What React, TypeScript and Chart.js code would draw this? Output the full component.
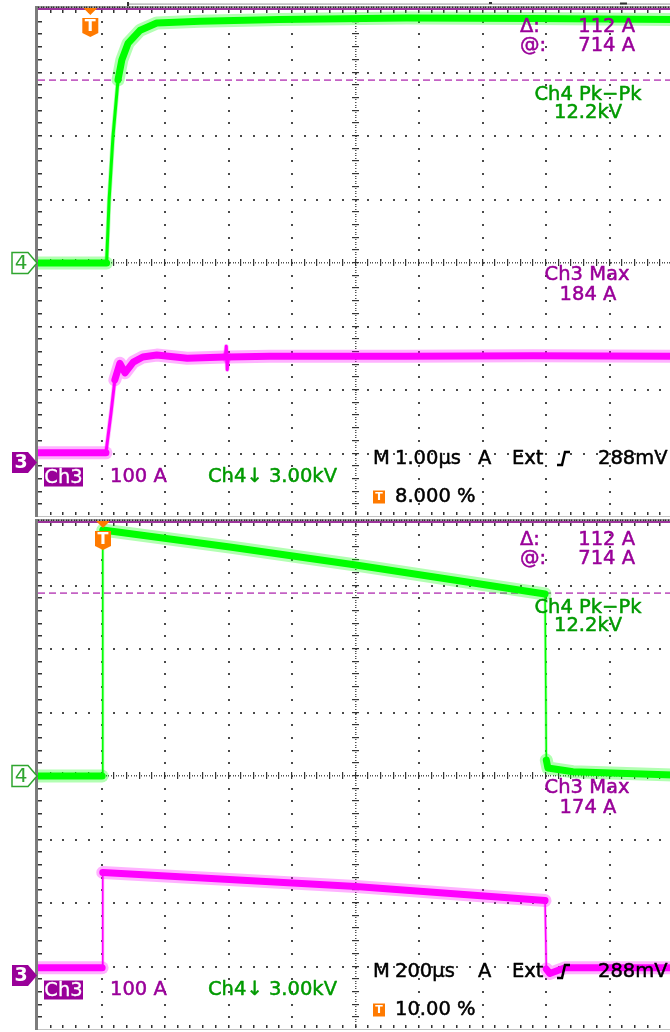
import React, { useEffect, useRef } from "react";
import { Chart, registerables } from "chart.js";

Chart.register(...registerables);

// ---------------- scope channel settings ----------------
const ch4RangeKv = [-12, 12]; // 3.00 kV/div, 8 divisions, ground at centre
const ch3RangeA = [-86, 714]; // 100 A/div, 8 divisions, top of screen = 714 A
const cursorAmps = [714, 602]; // "@: 714 A" and Δ 112 A below it

// ---------------- panel 1 : M 1.00 µs, trigger at 8.000 % ----------------
const p1TimeRange = [-0.8, 9.2]; // µs
const p1Ch4Time = [-0.8, 0.28, 0.32, 0.38, 0.46, 0.52, 0.62, 0.81, 1.07, 1.75, 3.0, 5.0, 7.0, 9.2];
const p1Ch4Kv = [0, 0, 2.98, 5.95, 8.65, 9.59, 10.39, 11.0, 11.34, 11.42, 11.5, 11.58, 11.55, 11.5];
const p1Ch3Time = [-0.8, 0.27, 0.35, 0.41, 0.49, 0.57, 0.7, 0.85, 1.07, 1.55, 2.15, 2.165, 2.18, 2.195, 2.85, 5.0, 7.0, 9.2];
const p1Ch3Amp = [15, 15, 78, 130, 156, 141, 158, 166, 169, 164, 166, 183, 146, 166, 167, 167, 168, 167];
const p1Labels = ["1.00µs", "8.000 %", "184 A"];

// ---------------- panel 2 : M 200 µs, trigger at 10.00 % ----------------
const p2TimeRange = [-200, 1800]; // µs
const p2Ch4Time = [-200, 2, 4, 404, 801, 1192, 1397, 1401, 1406, 1485, 1800];
const p2Ch4Kv = [0, 0, 11.62, 10.82, 9.97, 9.07, 8.6, 0.75, 0.38, 0.2, 0.05];
const p2Ch3Time = [-200, 2, 4, 801, 1397, 1401, 1412, 1460, 1800];
const p2Ch3Amp = [12, 12, 162, 140, 118, 10, 3, 12, 12];
const p2Labels = ["200µs", "10.00 %", "174 A"];

// ---------------- common readouts ----------------
const cursorLabels = ["Δ:", "112 A", "@:", "714 A"];
const pkpkLabels = ["Ch4 Pk−Pk", "12.2kV"];
const maxTitle = "Ch3 Max";
const scaleLabels = ["Ch3", "100 A", "Ch4↓ 3.00kV"];
const triggerLabels = ["M", "A", "Ext", "288mV"];

const PURPLE = "#990099";
const GREEN_TXT = "#009a00";
const ORANGE = "#ff7a00";
const FONT = '"DejaVu Sans", "Liberation Sans", sans-serif';

type PanelCfg = {
  timeRange: number[];
  ch4T: number[];
  ch4V: number[];
  ch3T: number[];
  ch3V: number[];
  labels: string[];
  steepW: number;
  top: number;
  height: number;
  padTop: number;
  padBottom: number;
  pageLine: boolean;
};

const CANVAS_W = 680;
const PLOT_LEFT = 38;
const PLOT_W = 635;

function isSteep(c: any) {
  return Math.abs(c.p1.y - c.p0.y) > 4 * Math.abs(c.p1.x - c.p0.x) + 6;
}

function traceSets(t: number[], v: number[], axis: string, core: string, halo: string, steepW: number) {
  const mk = () => t.map((x, i) => ({ x, y: v[i] }));
  return [
    {
      data: mk(),
      yAxisID: axis,
      borderColor: core,
      borderWidth: 7,
      borderJoinStyle: "round",
      borderCapStyle: "round",
      pointRadius: 0,
      segment: { borderWidth: (c: any) => (isSteep(c) ? steepW : undefined) },
    },
    {
      data: mk(),
      yAxisID: axis,
      borderColor: halo,
      borderWidth: 13,
      borderJoinStyle: "round",
      borderCapStyle: "round",
      pointRadius: 0,
      segment: { borderWidth: (c: any) => (isSteep(c) ? steepW + 1.5 : undefined) },
    },
  ];
}

const graticule = {
  id: "graticule",
  beforeDatasetsDraw(chart: any) {
    const { ctx, chartArea: a, scales } = chart;
    const xs = scales.x;
    const ys = scales.y4;
    const px = (d: number) => xs.getPixelForValue(xs.min + (d * (xs.max - xs.min)) / 10);
    const py = (d: number) => ys.getPixelForValue(ys.min + (d * (ys.max - ys.min)) / 8);
    const L = a.left, T = a.top, B = a.bottom, R = a.right;
    ctx.save();
    // major dotted lines
    ctx.fillStyle = "#4a4a4a";
    for (let i = 1; i < 10; i++) {
      if (i === 5) continue;
      const X = Math.round(px(i));
      for (let j = 1; j < 40; j++) {
        const Y = Math.round(py(j / 5));
        ctx.fillRect(X - 1, Y - 1, 2, 2);
      }
    }
    for (let i = 1; i < 8; i++) {
      if (i === 4) continue;
      const Y = Math.round(py(i));
      for (let j = 1; j < 50; j++) {
        const X = Math.round(px(j / 5));
        ctx.fillRect(X - 1, Y - 1, 2, 2);
      }
    }
    // centre cross-hair
    const cx = Math.round(px(5));
    const cy = Math.round(py(4));
    ctx.fillStyle = "#505050";
    for (let k = 1; k < 200; k++) {
      const Y = Math.round(py(k / 25));
      ctx.fillRect(cx - 1, Y - 1, 1.5, 1);
    }
    for (let k = 1; k < 250; k++) {
      const X = Math.round(px(k / 25));
      ctx.fillRect(X - 1, cy - 1, 1, 1.5);
    }
    ctx.fillStyle = "#333";
    for (let j = 1; j < 40; j++) {
      const Y = Math.round(py(j / 5));
      ctx.fillRect(cx - 4, Y - 1, 7, 1.2);
    }
    for (let j = 1; j < 50; j++) {
      const X = Math.round(px(j / 5));
      ctx.fillRect(X - 1, cy - 4, 1.2, 7);
    }
    // edge ticks
    ctx.fillStyle = "#333";
    for (let j = 1; j < 40; j++) {
      const Y = Math.round(py(j / 5));
      ctx.fillRect(L, Y - 1, 4, 1.5);
    }
    for (let j = 1; j < 50; j++) {
      const X = Math.round(px(j / 5));
      ctx.fillRect(X - 1, T, 1.5, 4);
      ctx.fillRect(X - 1, B - 5, 1.5, 3);
    }
    // frame
    ctx.fillStyle = "#7c7c7c";
    ctx.fillRect(L - 3, T - 3, 3, B - T + 3);
    ctx.fillStyle = "#a4a4a4";
    ctx.fillRect(L, T - 3, R - L, 3);
    ctx.fillStyle = "#2e2e2e";
    for (let k = 0; k < 250; k++) {
      const X = Math.round(px(k / 25));
      ctx.fillRect(X, T - 2.5, 1.2, 2);
    }
    ctx.fillStyle = "#c4c4c4";
    ctx.fillRect(L, B - 1, R - L, 1);
    ctx.restore();
  },
};

function text(ctx: any, s: string, x: number, y: number, color: string, align = "left", font = `19.5px ${FONT}`, stroke = 0.5) {
  ctx.font = font;
  ctx.fillStyle = color;
  ctx.textAlign = align;
  ctx.textBaseline = "middle";
  ctx.fillText(s, x, y);
  if (stroke > 0) {
    ctx.strokeStyle = color;
    ctx.lineWidth = stroke;
    ctx.lineJoin = "round";
    ctx.strokeText(s, x, y);
  }
}

function chMarker(ctx: any, L: number, y: number, label: string, filled: boolean) {
  const x0 = 12, x1 = L - 10, tip = L - 1;
  ctx.beginPath();
  ctx.moveTo(x0, y - 10.5);
  ctx.lineTo(x1, y - 10.5);
  ctx.lineTo(tip, y);
  ctx.lineTo(x1, y + 10.5);
  ctx.lineTo(x0, y + 10.5);
  ctx.closePath();
  if (filled) {
    ctx.fillStyle = PURPLE;
    ctx.fill();
    text(ctx, label, 21, y + 1, "#fff", "center", `bold 19px ${FONT}`, 0);
  } else {
    ctx.fillStyle = "#fff";
    ctx.fill();
    ctx.strokeStyle = "#2fa52f";
    ctx.lineWidth = 1.5;
    ctx.stroke();
    text(ctx, label, 21, y + 1, "#2fa52f", "center", `20px ${FONT}`, 0);
  }
}

function makeOverlay(cfg: PanelCfg) {
  return {
    id: "overlay",
    afterDraw(chart: any) {
      const { ctx, chartArea: a, scales } = chart;
      const L = a.left, T = a.top;
      ctx.save();
      if (cfg.pageLine) {
        ctx.fillStyle = "#a8a8a8";
        ctx.fillRect(128, 3.5, CANVAS_W - 128, 1.2);
        ctx.fillStyle = "#333";
        ctx.fillRect(127, 2, 2, 4);
        ctx.fillRect(489, 2, 3, 2);
        ctx.fillRect(620, 2.5, 7, 2);
      }
      // channel ground markers
      chMarker(ctx, L, scales.y4.getPixelForValue(0), "4", false);
      chMarker(ctx, L, scales.y3.getPixelForValue(0), "3", true);
      // trigger position marker
      const tx = scales.x.getPixelForValue(0) + 1.5;
      ctx.fillStyle = ORANGE;
      ctx.beginPath();
      ctx.moveTo(tx - 7, T - 1);
      ctx.lineTo(tx + 7, T - 1);
      ctx.lineTo(tx, T + 6);
      ctx.closePath();
      ctx.fill();
      ctx.beginPath();
      ctx.moveTo(tx - 8, T + 9);
      ctx.lineTo(tx + 8, T + 9);
      ctx.lineTo(tx + 8, T + 24);
      ctx.lineTo(tx, T + 28);
      ctx.lineTo(tx - 8, T + 24);
      ctx.closePath();
      ctx.fill();
      text(ctx, "T", tx, T + 18, "#fff", "center", `bold 16px ${FONT}`, 0);

      // cursor readout
      text(ctx, cursorLabels[0], 520, T + 17.5, PURPLE);
      text(ctx, cursorLabels[1], 635, T + 17.5, PURPLE, "right");
      text(ctx, cursorLabels[2], 520, T + 36.5, PURPLE);
      text(ctx, cursorLabels[3], 635, T + 36.5, PURPLE, "right");
      // measurements
      text(ctx, pkpkLabels[0], 588, T + 85.5, GREEN_TXT, "center");
      text(ctx, pkpkLabels[1], 588, T + 103.5, GREEN_TXT, "center");
      text(ctx, maxTitle, 587, T + 266, PURPLE, "center");
      text(ctx, cfg.labels[2], 588, T + 286, PURPLE, "center");
      // channel scale row
      ctx.fillStyle = PURPLE;
      ctx.fillRect(44, T + 458.5, 39, 19);
      text(ctx, scaleLabels[0], 63.5, T + 468.5, "#fff", "center", `19.5px ${FONT}`, 0.3);
      text(ctx, scaleLabels[1], 110, T + 467.5, PURPLE);
      text(ctx, scaleLabels[2], 208, T + 467.5, GREEN_TXT);
      // timebase / trigger row
      const ry = T + 449.5;
      text(ctx, triggerLabels[0], 373, ry, "#000");
      text(ctx, cfg.labels[0], 395, ry, "#000");
      text(ctx, triggerLabels[1], 478, ry, "#000");
      text(ctx, triggerLabels[2], 512, ry, "#000");
      ctx.strokeStyle = "#000";
      ctx.lineWidth = 2.5;
      ctx.lineJoin = "miter";
      ctx.beginPath();
      ctx.moveTo(557, ry + 6.5);
      ctx.lineTo(562, ry + 6.5);
      ctx.lineTo(565, ry - 6.5);
      ctx.lineTo(570, ry - 6.5);
      ctx.stroke();
      text(ctx, triggerLabels[3], 598, ry, "#000");
      // trigger position readout
      const ty = T + 488;
      ctx.fillStyle = ORANGE;
      ctx.fillRect(373, ty - 6.5, 12, 13);
      text(ctx, "T", 379, ty + 0.5, "#fff", "center", `bold 11px ${FONT}`, 0);
      text(ctx, cfg.labels[1], 395, ty, "#000");
      ctx.restore();
    },
  };
}

function buildConfig(cfg: PanelCfg): any {
  const [xmin, xmax] = cfg.timeRange;
  const datasets: any[] = [
    ...traceSets(cfg.ch4T, cfg.ch4V, "y4", "#00ff00", "rgba(0,255,0,0.3)", cfg.steepW),
    ...traceSets(cfg.ch3T, cfg.ch3V, "y3", "#ff00ff", "rgba(255,0,255,0.3)", cfg.steepW),
    {
      data: [
        { x: xmin, y: cursorAmps[0] },
        { x: xmax, y: cursorAmps[0] },
      ],
      yAxisID: "y3",
      borderColor: "#9a339a",
      borderWidth: 2,
      pointRadius: 0,
      clip: false,
    },
    {
      data: [
        { x: xmin, y: cursorAmps[1] },
        { x: xmax, y: cursorAmps[1] },
      ],
      yAxisID: "y3",
      borderColor: "#c462c4",
      borderWidth: 1.6,
      borderDash: [7, 4],
      pointRadius: 0,
    },
  ];
  return {
    type: "line",
    data: { datasets },
    options: {
      animation: false,
      responsive: false,
      events: [],
      layout: {
        padding: {
          left: PLOT_LEFT,
          right: CANVAS_W - PLOT_LEFT - PLOT_W,
          top: cfg.padTop,
          bottom: cfg.padBottom,
        },
      },
      plugins: { legend: { display: false }, tooltip: { enabled: false }, title: { display: false } },
      elements: { line: { tension: 0 }, point: { radius: 0 } },
      scales: {
        x: { type: "linear", min: xmin, max: xmax, display: false },
        y4: { type: "linear", min: ch4RangeKv[0], max: ch4RangeKv[1], display: false },
        y3: { type: "linear", min: ch3RangeA[0], max: ch3RangeA[1], display: false },
      },
    },
    plugins: [graticule, makeOverlay(cfg)],
  };
}

const panels: PanelCfg[] = [
  {
    timeRange: p1TimeRange,
    ch4T: p1Ch4Time,
    ch4V: p1Ch4Kv,
    ch3T: p1Ch3Time,
    ch3V: p1Ch3Amp,
    labels: p1Labels,
    steepW: 3,
    top: 0,
    height: 518,
    padTop: 9,
    padBottom: 1,
    pageLine: true,
  },
  {
    timeRange: p2TimeRange,
    ch4T: p2Ch4Time,
    ch4V: p2Ch4Kv,
    ch3T: p2Ch3Time,
    ch3V: p2Ch3Amp,
    labels: p2Labels,
    steepW: 1.5,
    top: 518,
    height: 514,
    padTop: 4,
    padBottom: 2,
    pageLine: false,
  },
];

function Panel({ cfg }: { cfg: PanelCfg }) {
  const ref = useRef<HTMLCanvasElement>(null);
  useEffect(() => {
    const chart = new Chart(ref.current as HTMLCanvasElement, buildConfig(cfg));
    return () => chart.destroy();
  }, [cfg]);
  return (
    <canvas
      ref={ref}
      width={CANVAS_W}
      height={cfg.height}
      style={{ position: "absolute", left: 0, top: cfg.top, width: CANVAS_W, height: cfg.height }}
    />
  );
}

export default function App() {
  return (
    <div
      style={{
        position: "absolute",
        left: 0,
        top: 0,
        width: 670,
        height: 1032,
        overflow: "hidden",
        background: "#fff",
      }}
    >
      {panels.map((p, i) => (
        <Panel key={i} cfg={p} />
      ))}
    </div>
  );
}
